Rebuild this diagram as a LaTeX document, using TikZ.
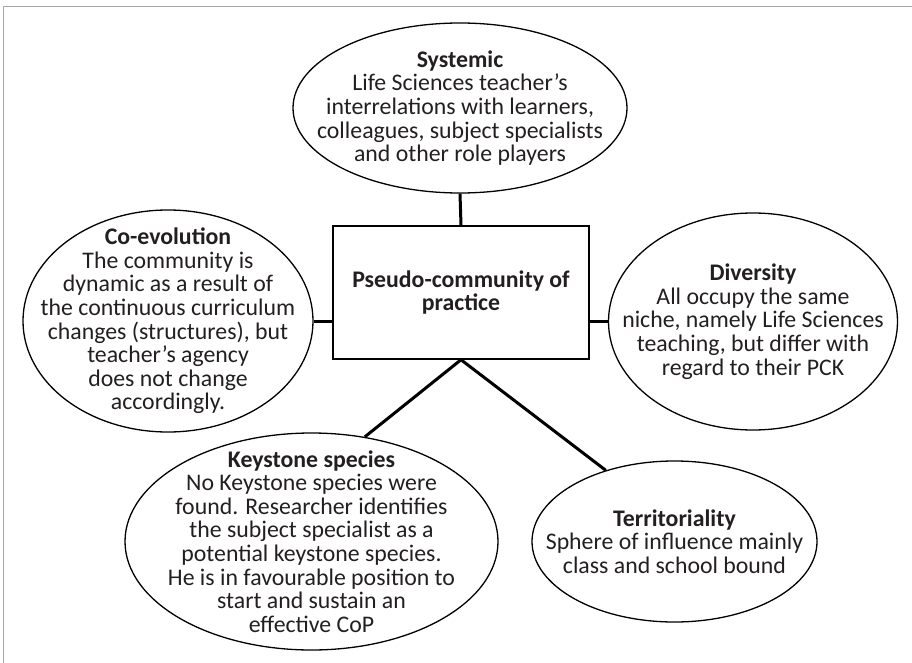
\documentclass[tikz,border=0pt]{standalone}
\usepackage{fontspec}
\setmainfont{Carlito}
\usetikzlibrary{shapes.geometric}
\definecolor{inkgray}{RGB}{35,31,32}
\tikzset{
	bubble/.style={draw, ellipse, line width=1.3pt, inner sep=-40pt, align=center,
		text=inkgray, font=\fontsize{23.8}{23.6}\selectfont},
	core/.style={draw, rectangle, line width=1.5pt, align=center, text=inkgray,
		font=\fontsize{23.8}{23.6}\selectfont\bfseries, minimum width=256pt, minimum height=133pt},
	link/.style={line width=3pt}
}

\begin{document}
\begin{tikzpicture}[x=1pt, y=-1pt]
	\useasboundingbox (0,0) rectangle (912,663);
	\draw[gray!70, line width=1pt] (3,663) -- (3,7) -- (912,7);

	\node[core] (core) at (461,292.5) {Pseudo-community of\\practice};

	\node[bubble, minimum width=334pt, minimum height=170pt] (sys) at (460,108)
		{\textbf{Systemic}\\Life Sciences teacher’s\\interrelations with learners,\\colleagues, subject specialists\\and other role players};
	\node[bubble, minimum width=290pt, minimum height=222pt] (coevo) at (168,321)
		{\textbf{Co-evolution}\\The community is\\dynamic as a result of\\the continuous curriculum\\changes (structures), but\\teacher’s agency\\does not change\\accordingly.};
	\node[bubble, minimum width=289pt, minimum height=217pt] (divers) at (753,321.5)
		{\textbf{Diversity}\\All occupy the same\\niche, namely Life Sciences\\teaching, but differ with\\regard to their PCK};
	\node[bubble, minimum width=373pt, minimum height=217pt] (keyst) at (311.5,541.5)
		{\textbf{Keystone species}\\No Keystone species were\\found. Researcher identifies\\the subject specialist as a\\potential keystone species.\\He is in favourable position to\\start and sustain an\\effective CoP};
	\node[bubble, minimum width=285pt, minimum height=161pt] (terr) at (674.5,541.5)
		{\textbf{Territoriality}\\Sphere of influence mainly\\class and school bound};

	\draw[link] (sys.south) -- (core.north);
	\draw[link] (coevo.east) -- (coevo.east -| core.west);
	\draw[link] (divers.west) -- (divers.west -| core.east);
	\draw[link] (core.south) -- (keyst.63);
	\draw[link] (core.south) -- (terr.134);
\end{tikzpicture}
\end{document}
